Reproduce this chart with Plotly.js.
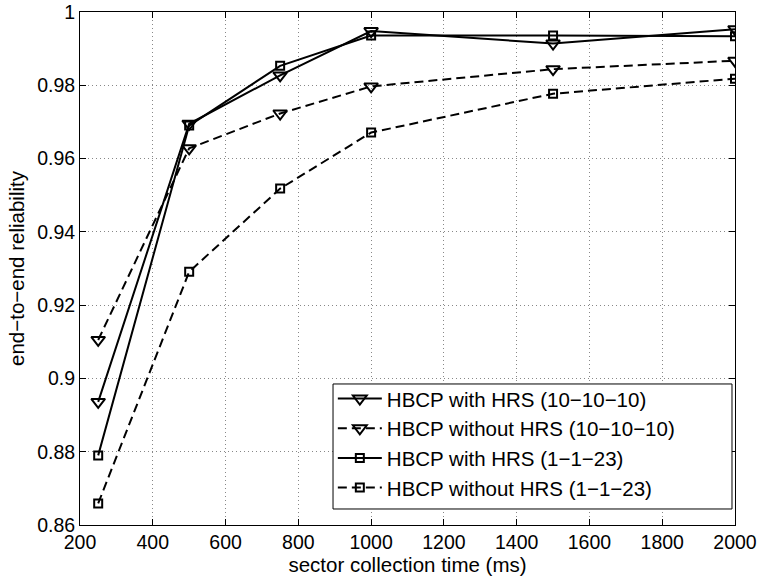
<!DOCTYPE html>
<html><head><meta charset="utf-8">
<script src="https://cdn.plot.ly/plotly-3.0.1.min.js"></script>
<style>body{margin:0;background:#fff}#plot{width:757px;height:578px}</style>
</head><body><div id="plot"></div>
<script>
const xTime = [250, 500, 750, 1000, 1500, 2000];
const withHRS_10_10_10 = [0.8936, 0.9695, 0.9827, 0.9948, 0.9914, 0.9953];
const withoutHRS_10_10_10 = [0.9105, 0.9628, 0.9723, 0.9797, 0.9844, 0.9867];
const withHRS_1_1_23 = [0.879, 0.9690, 0.9853, 0.9936, 0.9936, 0.9934];
const withoutHRS_1_1_23 = [0.8659, 0.9291, 0.9518, 0.9671, 0.9777, 0.9818];
const seriesNames = ["HBCP with HRS (10−10−10)", "HBCP without HRS (10−10−10)", "HBCP with HRS (1−1−23)", "HBCP without HRS (1−1−23)"];
const xTickVals = [200,400,600,800,1000,1200,1400,1600,1800,2000];
const yTickVals = [0.86,0.88,0.9,0.92,0.94,0.96,0.98,1];
const yTickText = ["0.86","0.88","0.9","0.92","0.94","0.96","0.98","1"];

const FONT = 'Liberation Sans, Arial, Helvetica, sans-serif';
function tr(y, name, dash, sym, size){
  return {x: xTime, y: y, name: name, type: 'scatter', mode: 'lines+markers',
    line: {color: '#000', width: 2, dash: dash},
    marker: {symbol: sym, size: size, color: '#000', line: {color: '#000', width: 2}}};
}
const data = [
  tr(withHRS_10_10_10, seriesNames[0], 'solid', 'triangle-down-open', 12),
  tr(withoutHRS_10_10_10, seriesNames[1], '9px,5px', 'triangle-down-open', 12),
  tr(withHRS_1_1_23, seriesNames[2], 'solid', 'square-open', 8),
  tr(withoutHRS_1_1_23, seriesNames[3], '9px,5px', 'square-open', 8)
];
const axisCommon = {showline: true, mirror: 'ticks', linecolor: '#000', linewidth: 1,
  ticks: 'inside', ticklen: 6, tickcolor: '#000', showgrid: true, gridcolor: '#888',
  griddash: '1px,3px', gridwidth: 1, zeroline: false, automargin: false,
  tickfont: {family: FONT, size: 19.5, color: '#000'}};
const layout = {
  width: 757, height: 578,
  margin: {l: 80, r: 22, t: 12, b: 53},
  paper_bgcolor: '#fff', plot_bgcolor: '#fff',
  showlegend: true,
  legend: {x: 0.386, y: 0.285, xanchor: 'left', yanchor: 'top', borderwidth: 0,
    bgcolor: 'rgba(0,0,0,0)', font: {family: FONT, size: 20.5, color: '#000'},
    tracegroupgap: 0, itemwidth: 44},
  shapes: [{type: 'rect', xref: 'paper', yref: 'paper', x0: 0.3863, x1: 0.9954, y0: 0.0312, y1: 0.2749,
    line: {color: '#000', width: 1}, fillcolor: '#fff', layer: 'above'}],
  xaxis: Object.assign({}, axisCommon, {range: [200, 2000], tickvals: xTickVals,
    title: {text: 'sector collection time (ms)', standoff: 0,
      font: {family: FONT, size: 20.5, color: '#000'}}}),
  yaxis: Object.assign({}, axisCommon, {range: [0.86, 1], tickvals: yTickVals, ticktext: yTickText,
    title: {text: 'end−to−end reliability', standoff: 6,
      font: {family: FONT, size: 20.5, color: '#000'}}})
};
Plotly.newPlot('plot', data, layout, {displayModeBar: false, staticPlot: true});
</script></body></html>
